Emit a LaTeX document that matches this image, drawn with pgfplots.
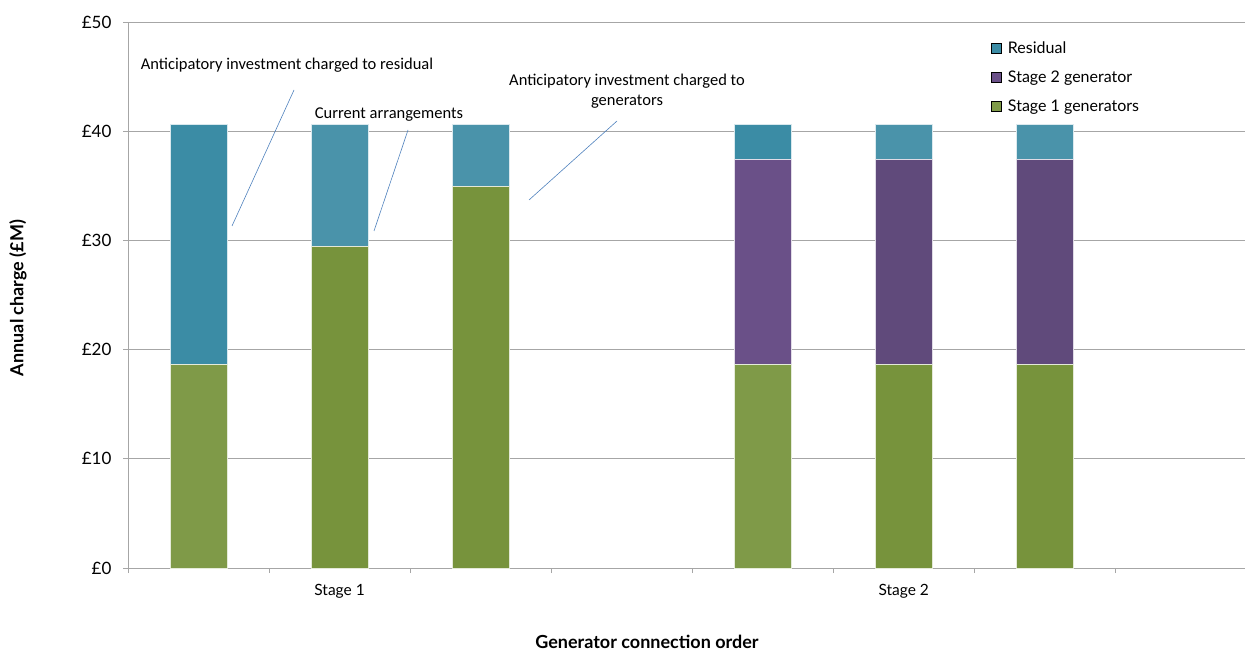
\documentclass[border=0pt]{standalone}
\usepackage{fontspec}
\setmainfont{Lato}
\newfontfamily\calfont{Carlito}
\usepackage{pgfplots}
\pgfplotsset{compat=1.18}
\definecolor{resA}{HTML}{3B8CA5}
\definecolor{resB}{HTML}{4A93AA}
\definecolor{purA}{HTML}{6A5088}
\definecolor{purB}{HTML}{604A7B}
\definecolor{grnA}{HTML}{7F9A48}
\definecolor{grnB}{HTML}{77933C}
\definecolor{callout}{HTML}{4F81BD}
\definecolor{gridc}{HTML}{A6A6A6}
\begin{document}
\begin{tikzpicture}[x=1pt,y=1pt]
\useasboundingbox (0,0) rectangle (1245,651);
\begin{axis}[
  at={(128pt,83pt)}, anchor=south west,
  scale only axis, width=1117pt, height=546pt,
  xmin=-0.5, xmax=7.42, ymin=0, ymax=50,
  axis x line*=bottom, axis y line*=left,
  axis line style={gridc, line width=0.8pt},
  ytick={0,10,20,30,40,50},
  yticklabels={£0,£10,£20,£30,£40,£50},
  ymajorgrids, grid style={gridc, line width=0.8pt},
  xtick={-0.5,0.5,1.5,2.5,3.5,4.5,5.5,6.5}, xticklabels={},
  extra x ticks={1,5}, extra x tick labels={Stage 1,Stage 2},
  extra x tick style={major tick length=0pt, grid=none, xticklabel style={yshift=-13pt, font=\fontsize{15.5}{18}\selectfont}},
  tick align=outside, major tick length=5pt,
  tick style={gridc, line width=0.8pt},
  yticklabel style={font=\fontsize{17}{19}\selectfont, xshift=-8pt},
  clip=false,
  legend style={at={(0.772,0.968)}, anchor=north west, draw=none, fill=none,
     font=\fontsize{16}{18}\selectfont, row sep=12pt, inner sep=0pt},
  legend cell align=left,
  legend image code/.code={\fill[#1] (0pt,-5pt) rectangle (10pt,5pt); \path (15pt,0pt);},
]
\addlegendimage{fill=resA}
\addlegendentry{Residual}
\addlegendimage{fill=purA}
\addlegendentry{Stage 2 generator}
\addlegendimage{fill=grnA}
\addlegendentry{Stage 1 generators}
% Residual (top of stack = total)
\addplot[ybar, bar width=57pt, bar shift=0pt, fill=resA, draw=white!80!resA, forget plot] coordinates {(0,40.6)};
\addplot[ybar, bar width=57pt, bar shift=0pt, fill=resB, draw=white!80!resB, forget plot] coordinates {(1,40.6)};
\addplot[ybar, bar width=57pt, bar shift=0pt, fill=resB, draw=white!80!resB, forget plot] coordinates {(2,40.6)};
\addplot[ybar, bar width=57pt, bar shift=0pt, fill=resA, draw=white!80!resA, forget plot] coordinates {(4,40.6)};
\addplot[ybar, bar width=57pt, bar shift=0pt, fill=resB, draw=white!80!resB, forget plot] coordinates {(5,40.6)};
\addplot[ybar, bar width=57pt, bar shift=0pt, fill=resB, draw=white!80!resB, forget plot] coordinates {(6,40.6)};
% Stage 2 generator (cumulative top)
\addplot[ybar, bar width=57pt, bar shift=0pt, fill=purA, draw=white!80!purA, forget plot] coordinates {(4,37.4)};
\addplot[ybar, bar width=57pt, bar shift=0pt, fill=purB, draw=white!80!purB, forget plot] coordinates {(5,37.4)};
\addplot[ybar, bar width=57pt, bar shift=0pt, fill=purB, draw=white!80!purB, forget plot] coordinates {(6,37.4)};
% Stage 1 generators
\addplot[ybar, bar width=57pt, bar shift=0pt, fill=grnA, draw=white!80!grnA, forget plot] coordinates {(0,18.7)};
\addplot[ybar, bar width=57pt, bar shift=0pt, fill=grnB, draw=white!80!grnB, forget plot] coordinates {(1,29.5)};
\addplot[ybar, bar width=57pt, bar shift=0pt, fill=grnB, draw=white!80!grnB, forget plot] coordinates {(2,35.0)};
\addplot[ybar, bar width=57pt, bar shift=0pt, fill=grnA, draw=white!80!grnA, forget plot] coordinates {(4,18.7)};
\addplot[ybar, bar width=57pt, bar shift=0pt, fill=grnB, draw=white!80!grnB, forget plot] coordinates {(5,18.7)};
\addplot[ybar, bar width=57pt, bar shift=0pt, fill=grnB, draw=white!80!grnB, forget plot] coordinates {(6,18.7)};
\end{axis}
% callouts
\node[font=\calfont\fontsize{16.5}{19}\selectfont] at (287,586) {Anticipatory investment charged to residual};
\draw[callout, line width=0.6pt] (294,561) -- (232,425);
\node[font=\calfont\fontsize{16.5}{19}\selectfont] at (389,536) {Current arrangements};
\draw[callout, line width=0.6pt] (408,521) -- (374,420);
\node[font=\calfont\fontsize{16.5}{19}\selectfont, align=center] at (627,560) {Anticipatory investment charged to\\[1pt]generators};
\draw[callout, line width=0.6pt] (617,530) -- (529,451);
% axis titles
\node[font=\bfseries\fontsize{18}{20}\selectfont, rotate=90] at (18,353) {Annual charge (£M)};
\node[font=\bfseries\fontsize{18}{20}\selectfont] at (647,9) {Generator connection order};
\end{tikzpicture}
\end{document}
